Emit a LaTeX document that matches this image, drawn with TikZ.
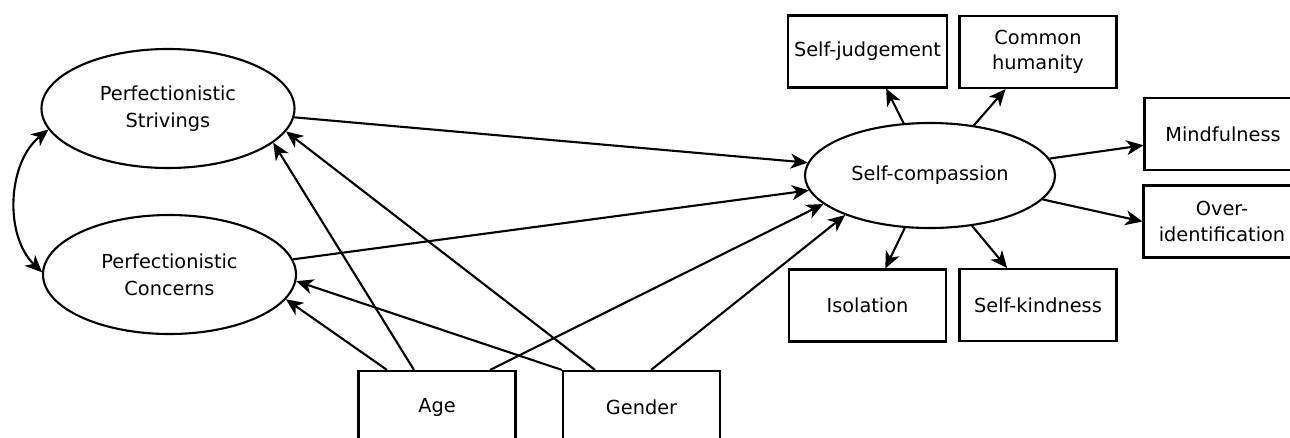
\documentclass[tikz,border=0pt]{standalone}
\usepackage{fontspec}
\setmainfont{DejaVu Sans}
\usetikzlibrary{shapes.geometric,arrows.meta}

\begin{document}
\begin{tikzpicture}[
    >={Stealth[length=3.4mm,width=3mm,inset=1mm]},
    latent/.style={draw,ellipse,line width=1.2pt,inner sep=0pt,minimum width=5.06cm,minimum height=2.38cm,align=center,font=\fontsize{11}{15.5}\selectfont},
    measure/.style={draw,rectangle,line width=1.2pt,minimum width=3.14cm,minimum height=1.44cm,align=center,font=\fontsize{11}{14.5}\selectfont},
    link/.style={line width=1.2pt,->}]
                \useasboundingbox (0,0) rectangle (25.8,-8.74);
                % latent variables
                \node[latent] (ps) at (3.36,-2.17) {Perfectionistic\\Strivings};
                \node[latent] (pc) at (3.39,-5.49) {Perfectionistic\\Concerns};
                \node[latent,minimum width=5cm,minimum height=2.1cm] (sc) at (18.6,-3.51) {Self-compassion};
                % indicators
                \node[measure] (sj) at (17.35,-1.03) {Self-judgement};
                \node[measure] (ch) at (20.76,-1.04) {Common\\humanity};
                \node[measure] (mf) at (24.46,-2.68) {Mindfulness};
                \node[measure] (oi) at (24.44,-4.43) {Over-\\identification};
                \node[measure] (is) at (17.35,-6.11) {Isolation};
                \node[measure] (sk) at (20.76,-6.10) {Self-kindness};
                % covariates
                \node[measure] (age) at (8.74,-8.14) {Age};
                \node[measure] (gender) at (12.83,-8.14) {Gender};
                % paths
                \draw[link,<->] (ps.190) .. controls +(-0.82,-0.66) and +(-0.76,0.74) .. (pc.179);
                \draw[link] (ps.-4.5) -- (sc.174.7);
                \draw[link] (pc.7.6) -- (sc.187.8);
                \draw[link] ([xshift=-1cm]age.north) -- (pc.-12.1);
                \draw[link] ([xshift=-0.46cm]age.north) -- (ps.-18.5);
                \draw[link] ([xshift=1.06cm]age.north) -- (sc.195.4);
                \draw[link] (gender.north west) -- (pc.-3.8);
                \draw[link] ([xshift=-0.93cm]gender.north) -- (ps.-11.5);
                \draw[link] ([xshift=0.19cm]gender.north) -- (sc.205.7);
                \draw[link] (sc) -- (sj);
                \draw[link] (sc) -- (ch);
                \draw[link] (sc) -- (mf);
                \draw[link] (sc.-12) -- (oi.west);
                \draw[link] (sc) -- (is);
                \draw[link] (sc) -- (sk);
\end{tikzpicture}
\end{document}
